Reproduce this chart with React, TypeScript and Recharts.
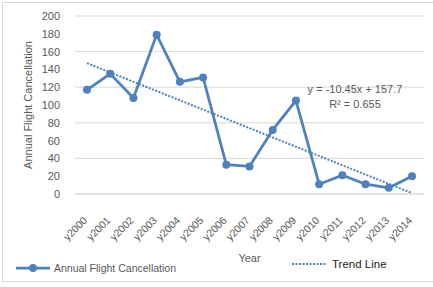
import { LineChart, Line, XAxis, YAxis, CartesianGrid, ReferenceLine } from 'recharts'

const years = ['y2000', 'y2001', 'y2002', 'y2003', 'y2004', 'y2005', 'y2006', 'y2007', 'y2008', 'y2009', 'y2010', 'y2011', 'y2012', 'y2013', 'y2014']
const cancellations = [117, 135, 108, 179, 126, 131, 33, 31, 72, 105, 11, 21, 11, 7, 20]
const yTicks = [0, 20, 40, 60, 80, 100, 120, 140, 160, 180, 200]
// trend line value at first and last year, as drawn
const trendEnds = [147, 1]

const data = years.map((year, i) => ({ year, value: cancellations[i] }))

const BLUE = '#4F81BD'
const GREY = '#595959'
const FONT = '"Liberation Sans", Arial, sans-serif'

function YearTick({ x, y, payload }: any) {
  const ax = x + 1
  const ay = y + 19
  return (
    <text x={ax} y={ay} transform={`rotate(-45, ${ax}, ${ay})`} textAnchor="end" fill={GREY} fontSize={10.5} fontFamily={FONT}>
      {payload.value}
    </text>
  )
}

function YTitle({ viewBox }: any) {
  const cx = viewBox.x + 28
  const cy = viewBox.y + viewBox.height / 2
  return (
    <text x={cx} y={cy} transform={`rotate(-90, ${cx}, ${cy})`} textAnchor="middle" dominantBaseline="central" fill={GREY} fontSize={11} fontFamily={FONT}>
      Annual Flight Cancellation
    </text>
  )
}

export default function App() {
  return (
    <div style={{ position: 'absolute', left: 0, top: 0, width: 433, height: 287, background: '#fff', overflow: 'hidden', fontFamily: FONT }}>
      <div style={{ position: 'absolute', left: 2, top: 2, width: 440, height: 278, border: '1px solid #d9d9d9' }} />
      <LineChart width={433} height={287} data={data} margin={{ top: 16, right: 9, bottom: 0, left: 0 }}>
        <CartesianGrid vertical={false} stroke="#d9d9d9" />
        <XAxis dataKey="year" interval={0} tickLine={false} axisLine={{ stroke: '#d9d9d9' }} height={93} tick={<YearTick />}
          padding={{ left: 12, right: 12 }}
          label={{ value: 'Year', position: 'insideBottom', offset: 25, fill: GREY, fontSize: 11, fontFamily: FONT }} />
        <YAxis domain={[0, 200]} ticks={yTicks} width={75} axisLine={false} tickLine={false} tickMargin={9}
          tick={{ fill: GREY, fontSize: 11, fontFamily: FONT }} label={<YTitle />} />
        <ReferenceLine segment={[{ x: years[0], y: trendEnds[0] }, { x: years[years.length - 1], y: trendEnds[1] }]}
          stroke={BLUE} strokeWidth={2} strokeDasharray="2 1.5" />
        <Line type="linear" dataKey="value" stroke={BLUE} strokeWidth={2.75} isAnimationActive={false}
          dot={{ r: 4, fill: BLUE, stroke: BLUE, strokeWidth: 0 }} />
      </LineChart>
      <div style={{ position: 'absolute', left: 255, width: 200, top: 82, textAlign: 'center', color: GREY, fontSize: 11, lineHeight: '15px' }}>
        y = -10.45x + 157.7<br />R² = 0.655
      </div>
      <div style={{ position: 'absolute', left: 14, top: 262, display: 'flex', alignItems: 'center', color: GREY, fontSize: 10.5 }}>
        <svg width={38} height={12}>
          <line x1={2} y1={6} x2={36} y2={6} stroke={BLUE} strokeWidth={2.75} />
          <circle cx={19} cy={6} r={4} fill={BLUE} />
        </svg>
        <span style={{ marginLeft: 2 }}>Annual Flight Cancellation</span>
      </div>
      <div style={{ position: 'absolute', left: 290, top: 258, display: 'flex', alignItems: 'center', color: '#1a1a1a', fontSize: 11.5 }}>
        <svg width={38} height={12}>
          <line x1={2} y1={6} x2={36} y2={6} stroke={BLUE} strokeWidth={2} strokeDasharray="2 1.5" />
        </svg>
        <span style={{ marginLeft: 4 }}>Trend Line</span>
      </div>
    </div>
  )
}
